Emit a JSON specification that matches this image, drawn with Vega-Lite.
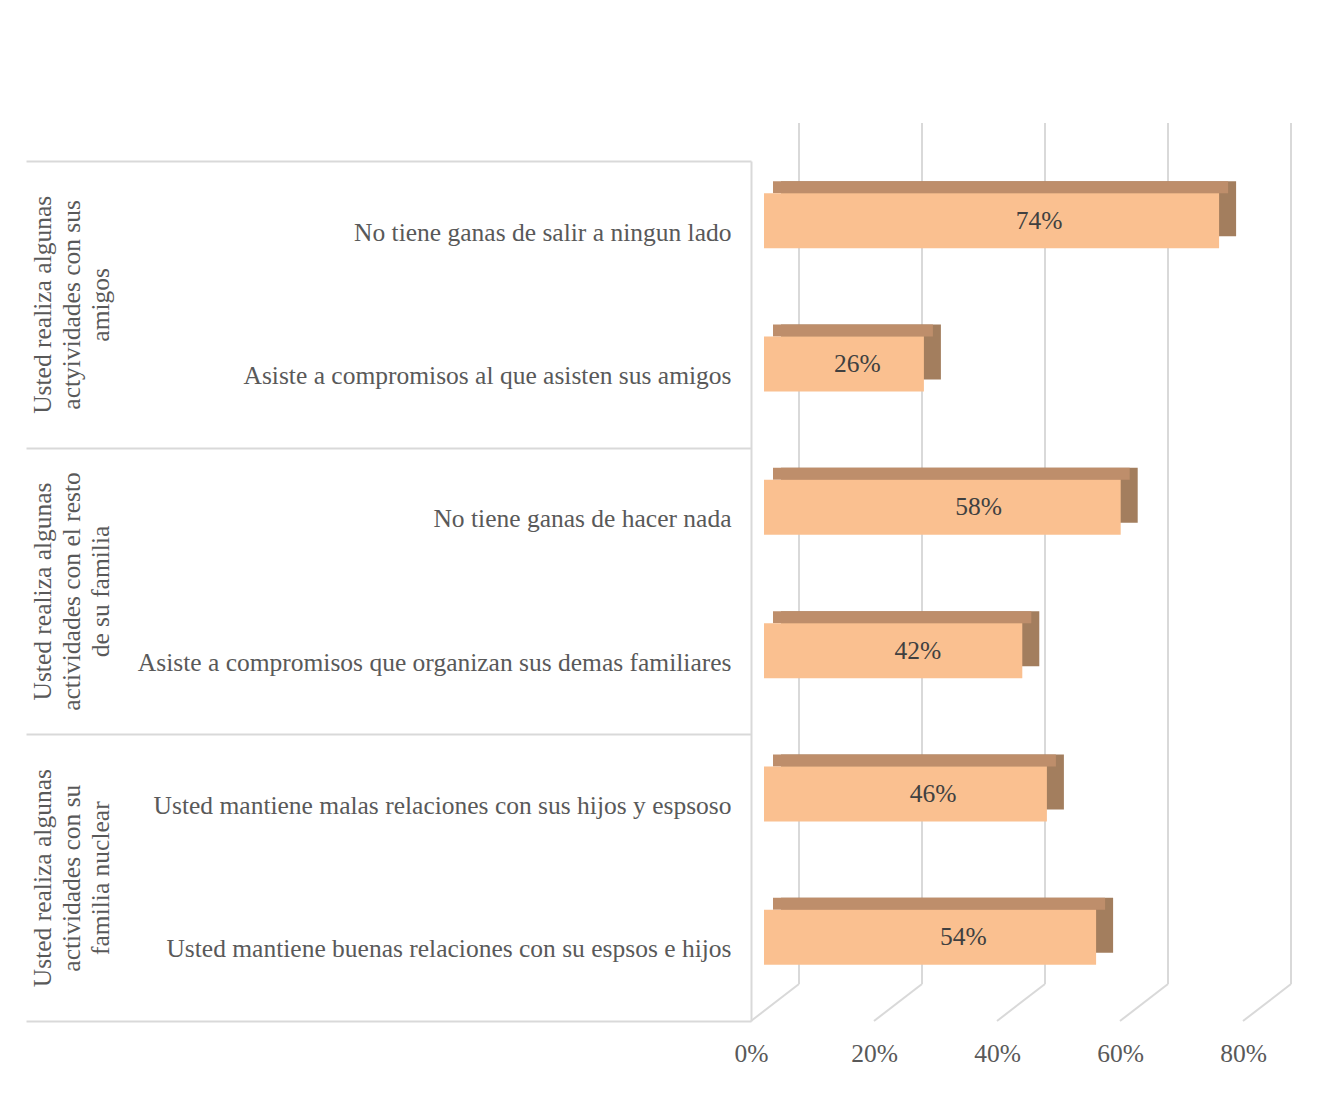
{
  "$schema": "https://vega.github.io/schema/vega-lite/v6.json",
  "width": 492,
  "height": 860,
  "padding": {"left": 25, "top": 122, "right": 20, "bottom": 20},
  "autosize": {"type": "pad"},
  "background": "white",
  "config": {
    "view": {"stroke": null},
    "font": "Liberation Serif",
    "axis": {"labelFont": "Liberation Serif", "labelColor": "#595959", "labelFontSize": 25.5, "title": null}
  },
  "datasets": {
    "items": [
      {"group": "Usted realiza algunas actyividades con sus amigos", "item": "No tiene ganas de salir a ningun lado", "value": 0.74},
      {"group": "Usted realiza algunas actyividades con sus amigos", "item": "Asiste a compromisos al que asisten sus amigos", "value": 0.26},
      {"group": "Usted realiza algunas actividades con el resto de su familia", "item": "No tiene ganas de hacer nada", "value": 0.58},
      {"group": "Usted realiza algunas actividades con el resto de su familia", "item": "Asiste a compromisos que organizan sus demas familiares", "value": 0.42},
      {"group": "Usted realiza algunas actividades con su familia nuclear", "item": "Usted mantiene malas relaciones con sus hijos y espsoso", "value": 0.46},
      {"group": "Usted realiza algunas actividades con su familia nuclear", "item": "Usted mantiene buenas relaciones con su espsos e hijos", "value": 0.54}
    ],
    "ticks": [{"t": 0}, {"t": 0.2}, {"t": 0.4}, {"t": 0.6}, {"t": 0.8}]
  },
  "layer": [
    {
      "data": {"name": "items"},
      "mark": {"type": "text", "text": ""},
      "encoding": {
        "y": {
          "field": "group", "type": "nominal", "sort": null,
          "scale": {"paddingInner": 0, "paddingOuter": 0},
          "axis": {
            "orient": "left", "tickBand": "extent", "tickSize": 725, "tickWidth": 2, "tickColor": "#D9D9D9",
            "domainColor": "#D9D9D9", "domainWidth": 2, "labelAngle": -90, "labelAlign": "center", "labelBaseline": "middle",
            "labelPadding": -16, "labelLineHeight": 29, "labelLimit": 0, "labelOverlap": false, "labelFlush": false,
            "labelExpr": "datum.value == 'Usted realiza algunas actyividades con sus amigos' ? ['Usted realiza algunas','actyividades con sus','amigos'] : datum.value == 'Usted realiza algunas actividades con el resto de su familia' ? ['Usted realiza algunas','actividades con el resto','de su familia'] : datum.value == 'Usted realiza algunas actividades con su familia nuclear' ? ['Usted realiza algunas','actividades con su','familia nuclear'] : ''"
          }
        }
      }
    },
    {
      "layer": [
        {
          "data": {"name": "ticks"},
          "mark": {"type": "rule", "color": "#D9D9D9", "strokeWidth": 2, "xOffset": 48, "y": -38, "y2": {"expr": "height - 37"}},
          "encoding": {"x": {"field": "t", "type": "quantitative", "scale": {"domain": [0, 0.8]}}}
        },
        {
          "data": {"name": "ticks"},
          "mark": {"type": "rule", "color": "#D9D9D9", "strokeWidth": 2, "x2Offset": 48},
          "encoding": {
            "x": {"field": "t", "type": "quantitative"},
            "x2": {"field": "t"},
            "y": {"value": {"expr": "height"}},
            "y2": {"value": {"expr": "height - 37"}}
          }
        },
        {
          "data": {"name": "items"},
          "mark": {"type": "bar", "color": "#A37E5E", "size": 55, "xOffset": 30, "x2Offset": 30, "yOffset": -24},
          "encoding": {
            "y": {"field": "item", "type": "nominal", "sort": null, "scale": {"paddingInner": 0, "paddingOuter": 0},
              "axis": {"orient": "left", "ticks": false, "domain": false, "labelPadding": 20, "labelLimit": 800}},
            "x": {"field": "value", "type": "quantitative", "scale": {"domain": [0, 0.8]},
              "axis": {"values": [0, 0.2, 0.4, 0.6, 0.8], "format": ".0%", "grid": false, "domain": false, "ticks": false, "labelPadding": 20, "labelFlush": false}}
          }
        },
        {
          "data": {"name": "items"},
          "mark": {"type": "bar", "color": "#BE8E6B", "size": 12, "xOffset": 22, "x2Offset": 22, "yOffset": -45.5},
          "encoding": {
            "y": {"field": "item", "type": "nominal", "sort": null},
            "x": {"field": "value", "type": "quantitative"}
          }
        },
        {
          "data": {"name": "items"},
          "mark": {"type": "bar", "color": "#FAC090", "size": 55, "xOffset": 13, "x2Offset": 13, "yOffset": -12},
          "encoding": {
            "y": {"field": "item", "type": "nominal", "sort": null},
            "x": {"field": "value", "type": "quantitative"}
          }
        }
      ]
    },
    {
      "data": {"name": "items"},
      "mark": {"type": "text", "fontSize": 25.5, "color": "#404040", "font": "Liberation Serif", "xOffset": 8, "yOffset": -12},
      "encoding": {
        "y": {"field": "item", "type": "nominal", "sort": null, "scale": {"paddingInner": 0, "paddingOuter": 0}, "axis": null},
        "x": {"field": "value", "type": "quantitative", "scale": {"domain": [0, 1.3]}, "axis": null},
        "text": {"field": "value", "type": "quantitative", "format": ".0%"}
      }
    }
  ],
  "resolve": {"scale": {"x": "independent", "y": "independent"}, "axis": {"x": "independent", "y": "independent"}}
}
